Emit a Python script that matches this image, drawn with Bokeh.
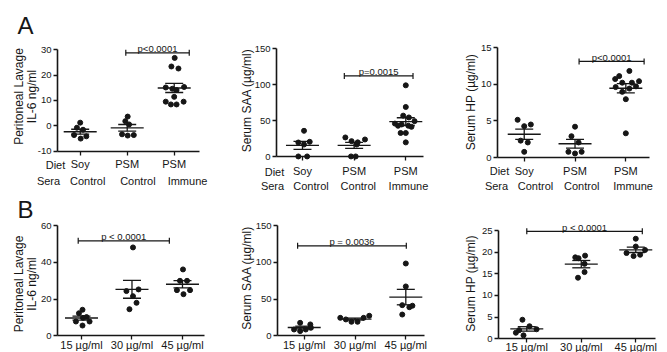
import numpy as np
from bokeh.plotting import figure
from bokeh.layouts import row, column
from bokeh.models import (Label, FixedTicker, Range1d, Whisker, ColumnDataSource,
                          Arrow, TeeHead)
from bokeh.embed import file_html
from bokeh.resources import INLINE

# ---------------- data ----------------
diet_labels = ["Soy", "PSM", "PSM"]
sera_labels = ["Control", "Control", "Immune"]
dose_labels = ["15 µg/ml", "30 µg/ml", "45 µg/ml"]

# Panel A, IL-6 (ng/ml)
a_il6_soy_ctrl = [1.2, -0.8, -1.6, -3.7, -5.1, -4.2]
a_il6_psm_ctrl = [3.6, 1.8, 0.5, -3.4, -3.9, -3.7]
a_il6_psm_imm = [26.8, 23.4, 22.6, 15.1, 14.6, 15.3, 14.1, 11.4, 9.5, 8.4, 8.4, 9.5]
a_il6_jit = [[0, -0.07, 0.06, -0.13, 0.01, 0.13],
             [0.01, -0.04, 0.04, -0.11, 0.01, 0.14],
             [0.01, -0.06, 0.09, -0.18, -0.04, 0.21, 0.05, 0, -0.18, -0.07, 0.05, 0.2]]
a_il6_pbar = [1.97, 3.32, 28.8]
a_il6_ptext = "p<0.0001"
a_il6_ticks = [-10, 0, 10, 20, 30]

# Panel A, SAA (µg/ml)
a_saa_soy_ctrl = [36, 19.8, 20.8, 17, 0.5, 0.5]
a_saa_psm_ctrl = [26.8, 21.7, 20, 24, 17, 0.5, 0.5]
a_saa_psm_imm = [99, 69, 57, 54.5, 49.4, 46, 44.8, 43, 43, 41.5, 33, 33, 20]
a_saa_jit = [[0.03, -0.08, 0.14, 0.03, -0.08, 0.09],
             [-0.17, -0.05, 0.07, 0.21, 0.05, -0.06, 0.03],
             [0, 0, -0.05, 0.06, 0.17, -0.21, -0.08, -0.15, 0.05, 0.11, -0.1, 0, 0]]
a_saa_pbar = [1.81, 3.14, 112]
a_saa_ptext = "p=0.0015"
a_saa_ticks = [0, 50, 100, 150]

# Panel A, HP (µg/ml)
a_hp_soy_ctrl = [5.14, 4.27, 4.5, 2.3, 2.05, 0.77]
a_hp_psm_ctrl = [4.2, 2.9, 2.05, 0.77, 0.55, 0.77]
a_hp_psm_imm = [11.8, 11.1, 10.7, 10.2, 10.2, 10.4, 9.6, 9.4, 9.7, 8.95, 7.95, 3.3]
a_hp_jit = [[-0.13, 0, 0.13, -0.07, 0.07, 0],
            [0, -0.07, 0.07, -0.13, 0, 0.13],
            [0.07, -0.13, -0.21, -0.07, 0.12, 0.26, -0.2, 0.07, 0.2, -0.07, 0, 0]]
a_hp_pbar = [2.08, 3.36, 13.1]
a_hp_ptext = "p<0.0001"
a_hp_ticks = [0, 5, 10, 15]

# Panel B, IL-6 (ng/ml)
b_il6_15 = [14.2, 12.3, 10.2, 7.8, 9.8, 7.8, 5.6]
b_il6_30 = [48.2, 24.4, 25.3, 21.6, 18, 14.5]
b_il6_45 = [36.2, 30, 30, 24.9, 22.7, 24.9]
b_il6_jit = [[0.02, -0.05, 0.1, -0.11, 0.03, 0.16, 0.02],
             [0.02, -0.11, 0.13, 0.02, 0.09, -0.05],
             [0.01, -0.05, 0.09, -0.11, 0.02, 0.15]]
b_il6_pbar = [0.935, 2.74, 51.8]
b_il6_ptext = "p < 0.0001"
b_il6_ticks = [0, 20, 40, 60]

# Panel B, SAA (µg/ml)
b_saa_15 = [17.7, 15.5, 8.6, 6.4, 8.6, 10.9]
b_saa_30 = [24.5, 22.3, 19.1, 19.1, 24.5, 27.3]
b_saa_45 = [98.6, 67.3, 41.8, 39, 41, 29]
b_saa_jit = [[-0.08, 0.12, -0.2, -0.08, 0.03, 0.13],
             [-0.29, -0.18, -0.07, 0.05, 0.17, 0.28],
             [0, 0, -0.07, 0.07, 0.13, -0.07]]
b_saa_pbar = [0.87, 3.01, 122.7]
b_saa_ptext = "p = 0.0036"
b_saa_ticks = [0, 50, 100, 150]

# Panel B, HP (µg/ml)
b_hp_15 = [4.4, 2.9, 1.4, 0.8, 2.2, 2.0]
b_hp_30 = [18.8, 18.6, 19.2, 17.3, 15.4, 14.1]
b_hp_45 = [23.1, 21.3, 19.8, 19.1, 19.4, 20.5]
b_hp_jit = [[-0.08, 0.05, -0.2, -0.06, 0.18, -0.14],
            [-0.11, -0.05, 0.07, 0.06, 0.06, -0.06],
            [0, 0, -0.17, -0.04, 0.08, 0.17]]
b_hp_pbar = [1.0, 3.12, 24.8]
b_hp_ptext = "p < 0.0001"
b_hp_ticks = [0, 5, 10, 15, 20, 25]

# ---------------- styling ----------------
FONT = "Liberation Sans"
INK = "#161616"
VERT = np.pi / 2


def make_panel(canvas, box, xab, yticks, groups, jits, cat_labels, standoff,
               pbar, ptext, texts, sera=None):
    X0, Y0, w, h = canvas          # cell of this figure in the page
    L, R, T, B = box               # where the axes sit in the page
    a, b = xab                     # x data value at the left / right end of the x axis
    ylo, yhi = yticks[0], yticks[-1]
    ux = (R - L) / (b - a)
    uy = (B - T) / (yhi - ylo)
    xr = Range1d(a - (L - X0) / ux, a + (X0 + w - L) / ux)
    yr = Range1d(ylo - (Y0 + h - B) / uy, ylo + (B - Y0) / uy)
    p = figure(width=w, height=h, x_range=xr, y_range=yr,
               output_backend="svg", toolbar_location=None, title=None,
               min_border=0, min_border_left=0, min_border_right=0,
               min_border_top=0, min_border_bottom=0)
    p.xgrid.visible = False
    p.ygrid.visible = False
    p.outline_line_color = None
    p.background_fill_color = "white"
    p.border_fill_color = "white"
    for ax in (p.xaxis[0], p.yaxis[0]):
        ax.axis_line_width = 1.6
        ax.axis_line_color = INK
        ax.major_tick_line_width = 1.3
        ax.major_tick_line_color = INK
        ax.major_tick_out = 4
        ax.major_tick_in = 0
        ax.minor_tick_line_color = None
    p.xaxis.fixed_location = ylo
    p.xaxis.bounds = (a, b)
    p.xaxis.ticker = FixedTicker(ticks=[1, 2, 3])
    p.xaxis.major_label_overrides = {k + 1: t for k, t in enumerate(cat_labels)}
    p.xaxis.major_label_text_font = FONT
    p.xaxis.major_label_text_font_size = "11px"
    p.xaxis.major_label_text_color = INK
    p.xaxis.major_label_standoff = standoff
    p.yaxis.fixed_location = a
    p.yaxis.bounds = (ylo, yhi)
    p.yaxis.ticker = FixedTicker(ticks=yticks)
    p.yaxis.major_label_overrides = {t: str(t) for t in yticks}
    p.yaxis.major_label_text_font = FONT
    p.yaxis.major_label_text_font_size = "9.5px"
    p.yaxis.major_label_text_color = INK
    p.yaxis.major_label_standoff = 2

    def lab(text, x, y, xu="screen", yu="screen", size="11px", baseline="middle",
            angle=0.0, x_offset=0, y_offset=0):
        p.add_layout(Label(text=text, x=x, y=y, x_units=xu, y_units=yu,
                           x_offset=x_offset, y_offset=y_offset,
                           text_font=FONT, text_font_size=size, text_color=INK,
                           text_align="center", text_baseline=baseline, angle=angle))

    xs, ys = [], []
    for i, (vals, jj) in enumerate(zip(groups, jits)):
        xs += [i + 1 + j for j in jj]
        ys += list(vals)
    p.scatter(xs, ys, size=5, color=INK)

    means = [float(np.mean(v)) for v in groups]
    sems = [float(np.std(v, ddof=1) / np.sqrt(len(v))) for v in groups]
    cats = [1, 2, 3]
    p.scatter(cats, means, marker="dash", size=33, line_width=1.4, line_color=INK)
    src = ColumnDataSource(dict(x=cats, up=[m + s for m, s in zip(means, sems)],
                                lo=[m - s for m, s in zip(means, sems)]))
    p.add_layout(Whisker(source=src, base="x", upper="up", lower="lo",
                         dimension="height", line_width=1.3, line_color=INK,
                         upper_head=TeeHead(size=18, line_width=1.3, line_color=INK),
                         lower_head=TeeHead(size=18, line_width=1.3, line_color=INK)))

    x0, x1, yb = pbar
    p.add_layout(Arrow(x_start=x0, y_start=yb, x_end=x1, y_end=yb,
                       line_width=1.2, line_color=INK,
                       start=TeeHead(size=6, line_width=1.2, line_color=INK),
                       end=TeeHead(size=6, line_width=1.2, line_color=INK)))
    lab(ptext, (x0 + x1) / 2, yb, xu="data", yu="data", size="9.5px",
        baseline="alphabetic", y_offset=4)

    # free texts, given by their place in the page
    for t, px, py, size, ang in texts:
        lab(t, px - X0, Y0 + h - py, size=size, angle=ang)
    if sera is not None:
        offs, py = sera
        for k, (t, o) in enumerate(zip(sera_labels, offs)):
            lab(t, k + 1, Y0 + h - py, xu="data", yu="screen", x_offset=o)
    return p


HA = 195      # height of the top row of panels
HB = 352 - HA

a1 = make_panel((0, 0, 225, HA), (57, 199, 49.3, 150.5), (0.517, 3.538), a_il6_ticks,
                [a_il6_soy_ctrl, a_il6_psm_ctrl, a_il6_psm_imm], a_il6_jit,
                diet_labels, 3, a_il6_pbar, a_il6_ptext,
                [("A", 25, 25, "24px", 0.0),
                 ("Peritoneal Lavage", 18, 96, "12px", VERT),
                 ("IL-6 ng/ml", 31, 96, "12px", VERT),
                 ("Diet", 55, 164.5, "11px", 0.0),
                 ("Sera", 48, 180.3, "11px", 0.0)],
                sera=([7.5, 10.7, 13.3], 180.3))
a2 = make_panel((225, 0, 220, HA), (276, 423, 48, 156.3), (0.497, 3.343), a_saa_ticks,
                [a_saa_soy_ctrl, a_saa_psm_ctrl, a_saa_psm_imm], a_saa_jit,
                diet_labels, 4, a_saa_pbar, a_saa_ptext,
                [("Serum SAA (µg/ml)", 246.7, 100, "12px", VERT),
                 ("Diet", 274, 171, "11px", 0.0),
                 ("Sera", 272, 185.5, "11px", 0.0)],
                sera=([8.5, 4.2, 2.7], 185.5))
a3 = make_panel((445, 0, 222, HA), (497, 649, 47, 157), (0.474, 3.466), a_hp_ticks,
                [a_hp_soy_ctrl, a_hp_psm_ctrl, a_hp_psm_imm], a_hp_jit,
                diet_labels, 3, a_hp_pbar, a_hp_ptext,
                [("Serum HP (µg/ml)", 470, 101.7, "12px", VERT),
                 ("Diet", 499, 170.5, "11px", 0.0),
                 ("Sera", 496, 185.5, "11px", 0.0)],
                sera=([11.3, 6.7, 7.2], 185.5))
b1 = make_panel((0, HA, 225, HB), (57, 204, 225.3, 335.3), (0.525, 3.436), b_il6_ticks,
                [b_il6_15, b_il6_30, b_il6_45], b_il6_jit,
                dose_labels, -1, b_il6_pbar, b_il6_ptext,
                [("B", 25, 208.5, "24px", 0.0),
                 ("Peritoneal Lavage", 18, 283.5, "12px", VERT),
                 ("IL-6 ng/ml", 31, 283.5, "12px", VERT)])
b2 = make_panel((225, HA, 220, HB), (277, 424, 225.3, 335.3), (0.474, 3.368), b_saa_ticks,
                [b_saa_15, b_saa_30, b_saa_45], b_saa_jit,
                dose_labels, -1, b_saa_pbar, b_saa_ptext,
                [("Serum SAA (µg/ml)", 246.7, 277.5, "12px", VERT)])
b3 = make_panel((445, HA, 222, HB), (498, 655, 230, 338.3), (0.481, 3.362), b_hp_ticks,
                [b_hp_15, b_hp_30, b_hp_45], b_hp_jit,
                dose_labels, -2, b_hp_pbar, b_hp_ptext,
                [("Serum HP (µg/ml)", 470, 283, "12px", VERT)])

layout = column(row(a1, a2, a3), row(b1, b2, b3))
open("out.html", "w").write(file_html(layout, INLINE))
